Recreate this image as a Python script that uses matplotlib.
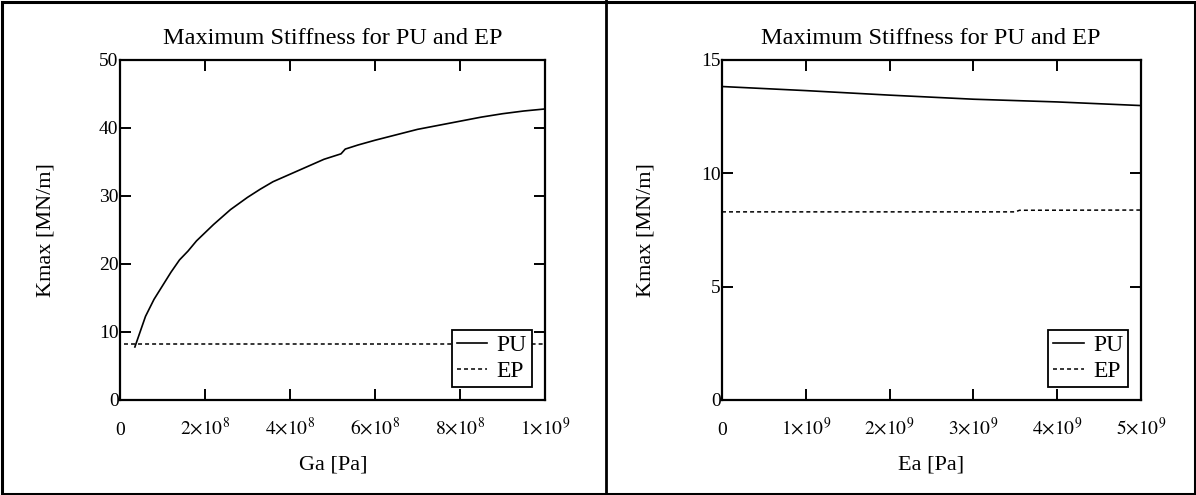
import matplotlib
matplotlib.use('Agg')
import matplotlib.pyplot as plt
from matplotlib.lines import Line2D
from matplotlib.patches import Rectangle

plt.rcParams['font.family'] = ['Liberation Serif', 'DejaVu Serif']
plt.rcParams['mathtext.fontset'] = 'stix'

# left chart: stiffness vs adhesive shear modulus Ga
ga_pu = [0.35e8, 0.5e8, 0.6e8, 0.8e8, 1.0e8, 1.2e8, 1.4e8, 1.6e8, 1.8e8, 2.0e8,
         2.2e8, 2.4e8, 2.6e8, 2.8e8, 3.0e8, 3.3e8, 3.6e8, 4.0e8, 4.4e8, 4.8e8,
         5.2e8, 5.3e8, 5.6e8, 6.0e8, 6.5e8, 7.0e8, 7.5e8, 8.0e8, 8.5e8, 9.0e8,
         9.5e8, 10.0e8]
kmax_pu_ga = [7.8, 10.5, 12.3, 14.8, 16.8, 18.8, 20.6, 21.9, 23.4, 24.6,
              25.8, 26.9, 28.0, 28.9, 29.8, 31.0, 32.1, 33.2, 34.3, 35.4,
              36.2, 36.9, 37.5, 38.2, 39.0, 39.8, 40.4, 41.0, 41.6, 42.1,
              42.5, 42.8]
ga_ep = [0.1e8, 10.0e8]
kmax_ep_ga = [8.2, 8.2]
ga_ticks = [0, 2e8, 4e8, 6e8, 8e8, 1e9]
ga_ticklabels = ['0', r'$2{\times}10^{8}$', r'$4{\times}10^{8}$', r'$6{\times}10^{8}$',
                 r'$8{\times}10^{8}$', r'$1{\times}10^{9}$']
ga_yticks = [0, 10, 20, 30, 40, 50]

# right chart: stiffness vs adhesive Young's modulus Ea
ea_pu = [0, 1e9, 2e9, 3e9, 4e9, 5e9]
kmax_pu_ea = [13.83, 13.65, 13.45, 13.27, 13.15, 12.99]
ea_ep = [0, 3.5e9, 3.55e9, 5e9]
kmax_ep_ea = [8.3, 8.3, 8.37, 8.38]
ea_ticks = [0, 1e9, 2e9, 3e9, 4e9, 5e9]
ea_ticklabels = ['0', r'$1{\times}10^{9}$', r'$2{\times}10^{9}$', r'$3{\times}10^{9}$',
                 r'$4{\times}10^{9}$', r'$5{\times}10^{9}$']
ea_yticks = [0, 5, 10, 15]

W, H = 1196, 495
fig = plt.figure(figsize=(W / 100, H / 100), dpi=100)

dash = (0, (2.6, 2.0))


def px_box(x0, x1, y0, y1):
    return [x0 / W, 1 - y1 / H, (x1 - x0) / W, (y1 - y0) / H]


def make_panel(rect, x_pu, y_pu, x_ep, y_ep, xmax, ymax, xticks, xlabels, yticks,
               xlabel, cx, ylab_x):
    ax = fig.add_axes(rect)
    ax.plot(x_pu, y_pu, color='black', lw=1.2, label='PU')
    ax.plot(x_ep, y_ep, color='black', lw=1.1, linestyle=dash, label='EP')
    ax.set_xlim(0, xmax)
    ax.set_ylim(0, ymax)
    ax.set_xticks(xticks)
    ax.set_xticklabels(xlabels)
    ax.set_yticks(yticks)
    ax.set_yticklabels([str(v) for v in yticks])
    ax.tick_params(direction='in', length=8, width=1.4, top=True, right=True,
                   labelsize=14, colors='black')
    ax.tick_params(axis='x', pad=25)
    ax.tick_params(axis='y', pad=1)
    for t in ax.get_xticklabels():
        t.set_va('baseline')
    for s in ax.spines.values():
        s.set_linewidth(1.6)
    ax.legend(loc='lower right', bbox_to_anchor=(0.969, 0.038), fontsize=17,
              frameon=True, fancybox=False, framealpha=1, edgecolor='black',
              borderpad=0.2, labelspacing=0.2, handlelength=1.3,
              handletextpad=0.4, borderaxespad=0)
    ax.get_legend().get_frame().set_linewidth(1.3)
    fig.text(cx / W, 1 - 38 / H, 'Maximum Stiffness for PU and EP', fontsize=17.5,
             ha='center', va='center')
    fig.text(cx / W, 1 - 465 / H, xlabel, fontsize=16, ha='center', va='center')
    fig.text(ylab_x / W, 1 - 230 / H, 'Kmax [MN/m]', fontsize=16, ha='center',
             va='center', rotation=90)
    return ax


make_panel(px_box(120, 545, 60, 400), ga_pu, kmax_pu_ga, ga_ep, kmax_ep_ga, 1e9, 50,
           ga_ticks, ga_ticklabels, ga_yticks, 'Ga [Pa]', 333, 46)
make_panel(px_box(722, 1141, 60, 400), ea_pu, kmax_pu_ea, ea_ep, kmax_ep_ea, 5e9, 15,
           ea_ticks, ea_ticklabels, ea_yticks, 'Ea [Pa]', 931, 646)

# outer frame and divider between the two panels
fig.patches.append(Rectangle((1.5 / W, 1.5 / H), (W - 3) / W, (H - 3) / H,
                             transform=fig.transFigure, fill=False,
                             edgecolor='black', lw=2.2))
fig.lines.append(Line2D([606 / W, 606 / W], [0, 1], transform=fig.transFigure,
                        color='black', lw=2.0))

fig.savefig('out.png', dpi=100)
